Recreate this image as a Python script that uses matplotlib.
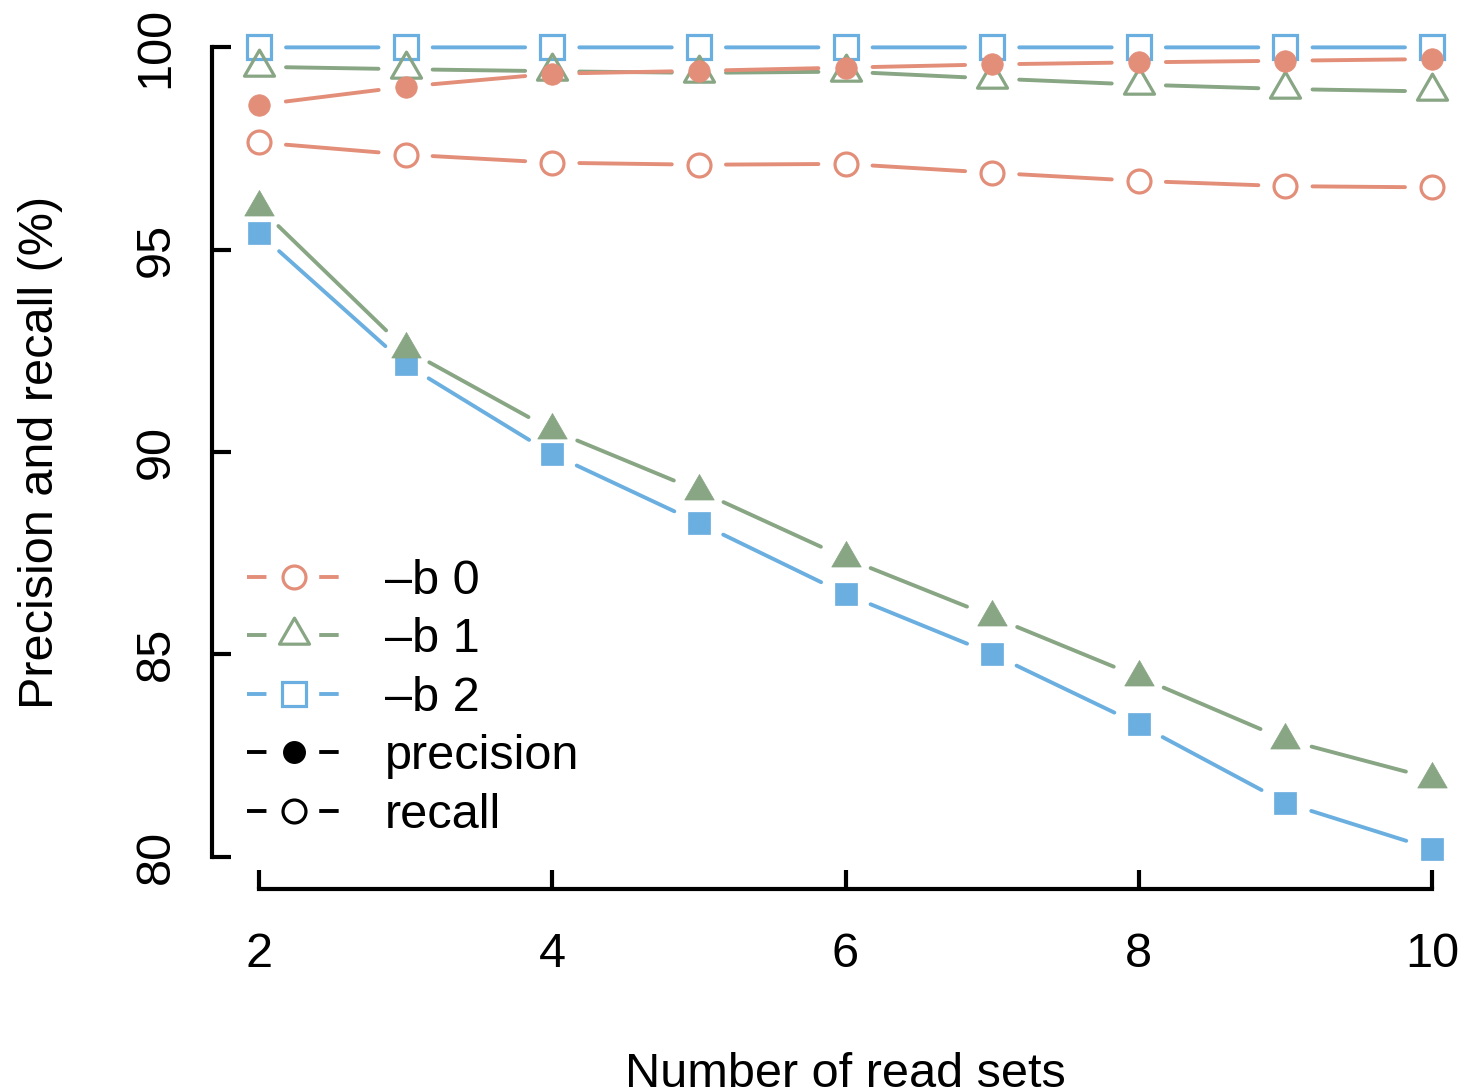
"""
Precision / recall vs number of read sets, R base-graphics look.
"""
import matplotlib
matplotlib.use('Agg')
import matplotlib.pyplot as plt
from matplotlib.lines import Line2D
from matplotlib.path import Path

plt.rcParams['font.family'] = ['Liberation Sans', 'DejaVu Sans']
plt.rcParams['lines.scale_dashes'] = False

# data
read_sets = [2, 3, 4, 5, 6, 7, 8, 9, 10]
b0_precision = [98.58, 99.03, 99.35, 99.42, 99.5, 99.58, 99.63, 99.67, 99.71]
b0_recall = [97.65, 97.35, 97.15, 97.1, 97.12, 96.9, 96.7, 96.57, 96.54]
b1_precision = [96.05, 92.54, 90.54, 89.04, 87.38, 85.93, 84.44, 82.89, 81.93]
b1_recall = [99.52, 99.46, 99.41, 99.37, 99.4, 99.23, 99.08, 98.97, 98.91]
b2_precision = [95.41, 92.17, 89.95, 88.25, 86.49, 85.01, 83.27, 81.33, 80.19]
b2_recall = [100.0] * 9

x_ticks = [2, 4, 6, 8, 10]
y_ticks = [80, 85, 90, 95, 100]
series_labels = ['\u2013b 0', '\u2013b 1', '\u2013b 2']

COLORS = {'b0': '#E38E79', 'b1': '#88A584', 'b2': '#6AAFE0'}
# equilateral triangle, centroid at 0 (like R pch 2 / 17)
TRI = Path([(0, 1), (-0.866, -0.5), (0.866, -0.5), (0, 1)], closed=True)
LW = 2.8
GAP = 19.5  # pt, gap between segment end and point (type="b")
FS = 35


def draw_b(ax, x, y, color, marker, filled, ms):
    # segments broken around each point, like R type="b"
    for i in range(len(x) - 1):
        ax.annotate('', xy=(x[i + 1], y[i + 1]), xytext=(x[i], y[i]),
                    arrowprops=dict(arrowstyle='-', color=color, lw=LW,
                                    shrinkA=GAP, shrinkB=GAP,
                                    capstyle='round'))
    if filled:
        ax.plot(x, y, linestyle='none', marker=marker, ms=ms,
                mfc=color, mec=color, mew=0.5, zorder=3)
    else:
        ax.plot(x, y, linestyle='none', marker=marker, ms=ms,
                mfc='none', mec=color, mew=2.3, zorder=3)


fig = plt.figure(figsize=(14.64, 10.88), dpi=100)
ax = fig.add_axes([212 / 1464, 1 - 889 / 1088, 1267 / 1464, 874 / 1088])
ax.set_xlim(1.68, 10.32)
ax.set_ylim(79.2, 100.8)

draw_b(ax, read_sets, b2_recall, COLORS['b2'], 's', False, 17)
draw_b(ax, read_sets, b2_precision, COLORS['b2'], 's', True, 16.5)
draw_b(ax, read_sets, b1_recall, COLORS['b1'], TRI, False, 25)
draw_b(ax, read_sets, b1_precision, COLORS['b1'], TRI, True, 24.5)
draw_b(ax, read_sets, b0_recall, COLORS['b0'], 'o', False, 16.5)
draw_b(ax, read_sets, b0_precision, COLORS['b0'], 'o', True, 15.5)

# R-style axes
for side in ['top', 'right']:
    ax.spines[side].set_visible(False)
for side in ['left', 'bottom']:
    ax.spines[side].set_linewidth(3.0)
    ax.spines[side].set_capstyle('projecting')
ax.spines['left'].set_bounds(80, 100)
ax.spines['bottom'].set_bounds(2, 10)
ax.set_xticks(x_ticks)
ax.set_yticks(y_ticks)
ax.tick_params(axis='both', direction='in', length=14, width=3.0,
               labelsize=FS)
ax.tick_params(axis='x', pad=31)
ax.tick_params(axis='y', pad=24, labelrotation=90)
for lab in ax.get_yticklabels():
    lab.set_verticalalignment('center')

ax.set_xlabel('Number of read sets', fontsize=FS, labelpad=54)
ax.set_ylabel('Precision and recall (%)', fontsize=FS, labelpad=51)

# legend
dash = (0, (14, 38))
handles = [
    Line2D([], [], color=COLORS['b0'], lw=LW, ls=dash, marker='o', ms=16.5,
           mfc='none', mec=COLORS['b0'], mew=2.3),
    Line2D([], [], color=COLORS['b1'], lw=LW, ls=dash, marker=TRI, ms=25,
           mfc='none', mec=COLORS['b1'], mew=2.3),
    Line2D([], [], color=COLORS['b2'], lw=LW, ls=dash, marker='s', ms=17,
           mfc='none', mec=COLORS['b2'], mew=2.3),
    Line2D([], [], color='black', lw=LW, ls=dash, marker='o', ms=15.5,
           mfc='black', mec='black'),
    Line2D([], [], color='black', lw=LW, ls=dash, marker='o', ms=16.5,
           mfc='none', mec='black', mew=2.3),
]
labels = series_labels + ['precision', 'recall']
ax.legend(handles, labels, loc='upper left', bbox_to_anchor=(0.028, 0.378),
          frameon=False, fontsize=FS, handlelength=1.92, handletextpad=0.9,
          labelspacing=0.28, borderpad=0, borderaxespad=0)

fig.savefig('out.png', dpi=100)
